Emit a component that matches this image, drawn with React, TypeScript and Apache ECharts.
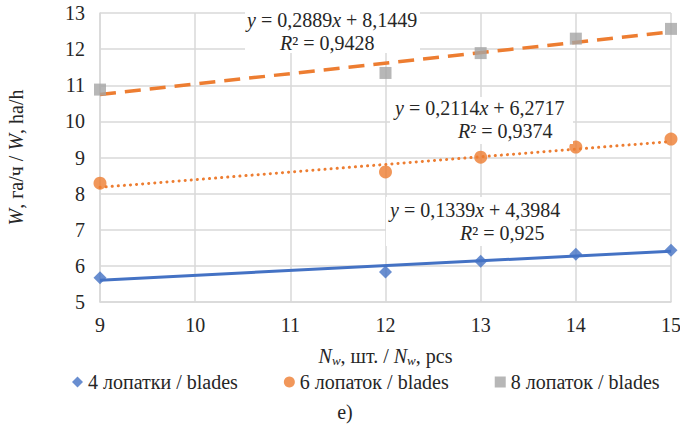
import React, { useEffect, useRef } from "react";
import * as echarts from "echarts";

const xTicks = [9, 10, 11, 12, 13, 14, 15];
const xValues = [9, 12, 13, 14, 15];
const blades4 = [5.67, 5.83, 6.13, 6.32, 6.43];
const blades6 = [8.29, 8.6, 9.01, 9.29, 9.51];
const blades8 = [10.88, 11.34, 11.89, 12.29, 12.56];
const seriesNames = ["4 лопатки / blades", "6 лопаток / blades", "8 лопаток / blades"];
const slopes = [0.1339, 0.2114, 0.2889];
const intercepts = [4.3984, 6.2717, 8.1449];
const eqTexts = [
  ["{i|y} = 0,1339{i|x} + 4,3984", "{i|R}² = 0,925"],
  ["{i|y} = 0,2114{i|x} + 6,2717", "{i|R}² = 0,9374"],
  ["{i|y} = 0,2889{i|x} + 8,1449", "{i|R}² = 0,9428"],
];

const FONT = "Liberation Serif";
const FS = 20;
const BLUE = "#4472C4";
const ORANGE = "#ED7D31";
const GRAY = "#A5A5A5";
const TXT = "#262626";

export default function App() {
  const ref = useRef<HTMLDivElement>(null);
  useEffect(() => {
    if (!ref.current) return;
    const chart = echarts.init(ref.current, undefined, { renderer: "svg" });
    const pts = (ys: number[]) => xValues.map((x, i) => [x, ys[i]]);
    const trend = (k: number) => [
      [xTicks[0], slopes[k] * xTicks[0] + intercepts[k]],
      [xTicks[xTicks.length - 1], slopes[k] * xTicks[xTicks.length - 1] + intercepts[k]],
    ];
    const rich = { i: { fontStyle: "italic", fontFamily: FONT, fontSize: FS, fill: TXT } };
    const eqBlocks = [
      { rect: [386, 197, 184, 49], l1: [390, 210], l2: [460, 233] },
      { rect: [390, 97, 183, 47], l1: [395, 108], l2: [458, 131] },
      { rect: [245, 8, 175, 45], l1: [247, 20], l2: [280, 43] },
    ];
    const graphics: any[] = [];
    eqBlocks.forEach((b, k) => {
      graphics.push({
        type: "rect",
        shape: { x: b.rect[0], y: b.rect[1], width: b.rect[2], height: b.rect[3] },
        style: { fill: "#fff" },
        z: 10,
      });
      [b.l1, b.l2].forEach((p, j) => {
        graphics.push({
          type: "text",
          x: p[0],
          y: p[1],
          z: 11,
          style: {
            text: eqTexts[k][j],
            rich,
            fontFamily: FONT,
            fontSize: FS,
            fill: TXT,
            verticalAlign: "middle",
          },
        });
      });
    });
    graphics.push({
      type: "text",
      x: 345,
      y: 412,
      style: { text: "e)", fontFamily: FONT, fontSize: FS, fill: TXT, align: "center", verticalAlign: "middle" },
    });

    chart.setOption({
      animation: false,
      textStyle: { fontFamily: FONT, fontSize: FS },
      grid: { left: 100, right: 9, top: 13, bottom: 123, containLabel: false, outerBoundsMode: "none" },
      xAxis: {
        type: "value",
        min: 9,
        max: 15,
        interval: 1,
        axisLine: { show: true, lineStyle: { color: "#D9D9D9", width: 1.5 } },
        axisTick: { show: false },
        splitLine: { show: true, lineStyle: { color: "#D9D9D9", width: 1.5 } },
        axisLabel: { fontFamily: FONT, fontSize: FS, color: TXT, margin: 13 },
        name: "{i|N}{s|w}, шт. / {i|N}{s|w}, pcs",
        nameLocation: "middle",
        nameGap: 42,
        nameTextStyle: {
          fontFamily: FONT,
          fontSize: FS,
          color: TXT,
          rich: {
            i: { fontStyle: "italic", fontFamily: FONT, fontSize: FS, color: TXT },
            s: { fontStyle: "italic", fontFamily: FONT, fontSize: 13, color: TXT, verticalAlign: "bottom", padding: [10, 0, 0, 0] },
          },
        },
      },
      yAxis: {
        type: "value",
        min: 5,
        max: 13,
        interval: 1,
        axisLine: { show: true, lineStyle: { color: "#D9D9D9", width: 1.5 } },
        axisTick: { show: false },
        splitLine: { show: true, lineStyle: { color: "#D9D9D9", width: 1.5 } },
        axisLabel: { fontFamily: FONT, fontSize: FS, color: TXT, margin: 15 },
        name: "{i|W}, га/ч / {i|W}, ha/h",
        nameLocation: "middle",
        nameGap: 74,
        nameTextStyle: {
          fontFamily: FONT,
          fontSize: FS,
          color: TXT,
          rich: { i: { fontStyle: "italic", fontFamily: FONT, fontSize: FS, color: TXT } },
        },
      },
      legend: {
        data: seriesNames.map((n, k) => ({ name: n, icon: ["diamond", "circle", "rect"][k] })),
        left: 67,
        top: 367,
        itemWidth: 11,
        itemHeight: 11,
        itemGap: 46,
        textStyle: { fontFamily: FONT, fontSize: FS, color: TXT },
      },
      graphic: graphics,
      series: [
        {
          type: "line",
          data: trend(0),
          symbol: "none",
          lineStyle: { color: BLUE, width: 3 },
          z: 2,
          silent: true,
        },
        {
          type: "line",
          data: trend(1),
          symbol: "none",
          lineStyle: { color: ORANGE, width: 3, type: [0.1, 6], cap: "round" },
          z: 2,
          silent: true,
        },
        {
          type: "line",
          data: trend(2),
          symbol: "none",
          lineStyle: { color: ORANGE, width: 3.5, type: [16, 9] },
          z: 2,
          silent: true,
        },
        {
          name: seriesNames[0],
          type: "scatter",
          data: pts(blades4),
          symbol: "diamond",
          symbolSize: 13,
          itemStyle: { color: BLUE },
          z: 3,
        },
        {
          name: seriesNames[1],
          type: "scatter",
          data: pts(blades6),
          symbol: "circle",
          symbolSize: 13,
          itemStyle: { color: ORANGE },
          z: 3,
        },
        {
          name: seriesNames[2],
          type: "scatter",
          data: pts(blades8),
          symbol: "rect",
          symbolSize: 12,
          itemStyle: { color: GRAY },
          z: 3,
        },
      ],
    });
    return () => chart.dispose();
  }, []);
  return <div ref={ref} style={{ width: 680, height: 425, position: "absolute", left: 0, top: 0 }} />;
}
